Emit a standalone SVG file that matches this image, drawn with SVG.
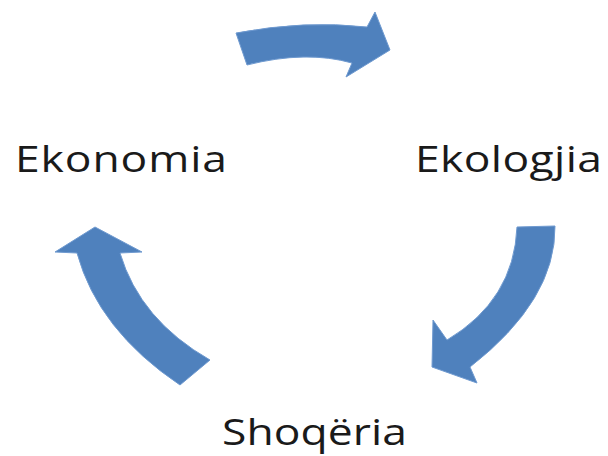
<svg xmlns="http://www.w3.org/2000/svg" width="608" height="456" viewBox="0 0 608 456">
<style>
.arrow{fill:#4f81bd;stroke:#6f9ad0;stroke-width:1;stroke-linejoin:round}
.label{font-family:"Open Sans","DejaVu Sans",sans-serif;font-size:37px;fill:#1a1a1a}
</style>
<rect width="608" height="456" fill="#ffffff"/>
<g id="connectors">
<path id="arrow-top" class="arrow" d="M236,33 Q304.5,20 367,27 L375,12 L390,50 L346,77 L352,63 Q306.5,50 247,65 Z"/>
<path id="arrow-right" class="arrow" d="M517,227 L555,226 Q556,300 470,367 L477,383 L432,367 L433,320 L447,340 Q514,300 517,227 Z"/>
<path id="arrow-left" class="arrow" d="M210,360 L180,385 Q98,330 77,253 L55,252 L95,227 L142,252 L120,253 Q140,320 210,360 Z"/>
</g>
<g id="node-ekonomia"><text class="label" transform="translate(15,172) scale(1.2,1)" textLength="176.7" lengthAdjust="spacing">Ekonomia</text></g>
<g id="node-ekologjia"><text class="label" transform="translate(415,172) scale(1.2,1)" textLength="155.8" lengthAdjust="spacing">Ekologjia</text></g>
<g id="node-shoqeria"><text class="label" transform="translate(222,445) scale(1.2,1)" textLength="154.2" lengthAdjust="spacing">Shoqëria</text></g>
</svg>
